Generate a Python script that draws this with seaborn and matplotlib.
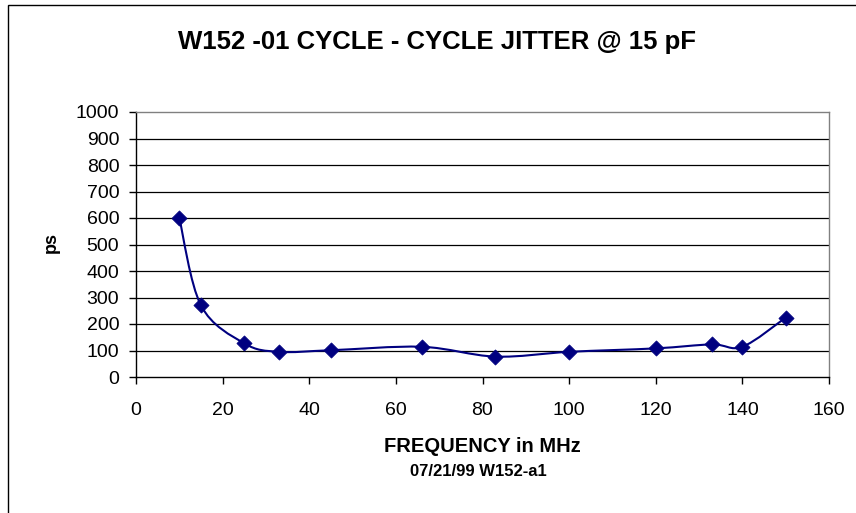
import numpy as np
import pandas as pd
import seaborn as sns
import matplotlib.pyplot as plt
from matplotlib.path import Path
from matplotlib.patches import PathPatch, Rectangle

freq = [10, 15, 25, 33, 45, 66, 83, 100, 120, 133, 140, 150]
jitter = [600, 270, 127, 95, 101, 114, 77, 95, 108, 123, 114, 224]
x_ticks = [0, 20, 40, 60, 80, 100, 120, 140, 160]
y_ticks = [0, 100, 200, 300, 400, 500, 600, 700, 800, 900, 1000]

df = pd.DataFrame({'MHz': freq, 'ps': jitter})

sns.set_style('white')
plt.rcParams['font.family'] = ['Liberation Sans', 'DejaVu Sans']
plt.rcParams['text.color'] = 'black'
plt.rcParams['xtick.color'] = 'black'
plt.rcParams['ytick.color'] = 'black'
plt.rcParams['axes.labelcolor'] = 'black'

fig = plt.figure(figsize=(8.56, 5.13), dpi=100)
ax = fig.add_axes([136 / 856, 1 - 377 / 513, 693 / 856, 265 / 513])


def smooth_path(xs, ys):
    # Excel-style smoothed line: cubic bezier through the points
    pts = np.column_stack([xs, ys]).astype(float)
    verts = [pts[0]]
    codes = [Path.MOVETO]
    n = len(pts)
    for i in range(n - 1):
        p0 = pts[max(i - 1, 0)]
        p1 = pts[i]
        p2 = pts[i + 1]
        p3 = pts[min(i + 2, n - 1)]
        c1 = p1 + (p2 - p0) / 6
        c2 = p2 - (p3 - p1) / 6
        verts += [c1, c2, p2]
        codes += [Path.CURVE4] * 3
    return Path(verts, codes)


ax.add_patch(PathPatch(smooth_path(df['MHz'], df['ps']), fill=False,
                       edgecolor='#000080', linewidth=1.5, zorder=3))
sns.scatterplot(data=df, x='MHz', y='ps', marker='D', s=60, color='#000080',
                edgecolor='#000080', linewidth=0.5, zorder=4, ax=ax, legend=False)

ax.set_xlim(0, 160)
ax.set_ylim(0, 1000)
ax.set_xticks(x_ticks)
ax.set_yticks(y_ticks)
ax.set_xticklabels([str(t) for t in x_ticks], fontsize=14)
ax.set_yticklabels([str(t) for t in y_ticks], fontsize=14)
ax.tick_params(axis='both', direction='out', length=5, width=1, color='black',
               left=True, bottom=True)
ax.tick_params(axis='y', pad=7)
ax.tick_params(axis='x', pad=13)

for v in y_ticks[1:-1]:
    ax.axhline(v, color='black', linewidth=0.9, zorder=1)

ax.spines['left'].set_color('black')
ax.spines['bottom'].set_color('black')
ax.spines['top'].set_color('#808080')
ax.spines['right'].set_color('#808080')
for s in ax.spines.values():
    s.set_linewidth(1)

ax.set_xlabel('')
ax.set_ylabel('')

fig.text(51 / 856, 1 - 243 / 513, 'ps', rotation=90, ha='center', va='center',
         fontsize=13, fontweight='bold')
fig.text(437 / 856, 1 - 42 / 513, 'W152 -01 CYCLE - CYCLE JITTER @ 15 pF', ha='center',
         va='center', fontsize=18.5, fontweight='bold')
fig.text(482 / 856, 1 - 447 / 513, 'FREQUENCY in MHz', ha='center', va='center',
         fontsize=14.5, fontweight='bold')
fig.text(478 / 856, 1 - 471 / 513, '07/21/99 W152-a1', ha='center', va='center',
         fontsize=12, fontweight='bold')

fig.add_artist(Rectangle((8 / 856, -0.2), 1.2, 1.2 - 5 / 513, fill=False,
                         edgecolor='black', linewidth=1, transform=fig.transFigure))

fig.savefig('out.png', dpi=100)
